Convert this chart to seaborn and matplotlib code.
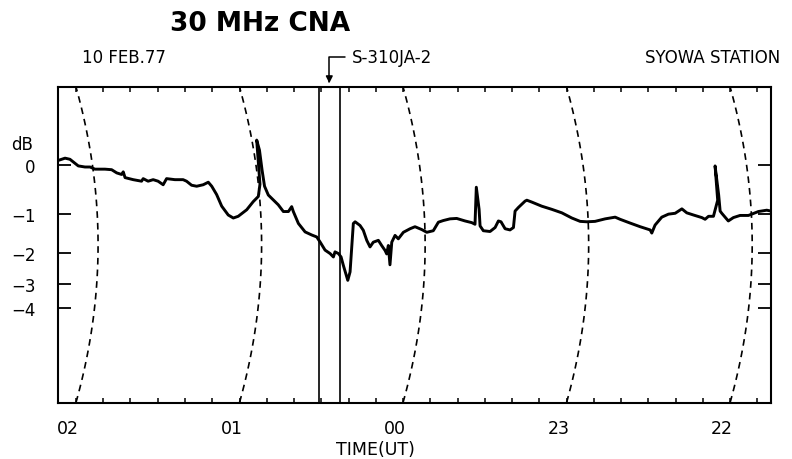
import numpy as np
import seaborn as sns
import matplotlib
matplotlib.use("Agg")
import matplotlib.pyplot as plt
from matplotlib import transforms
from matplotlib.ticker import MultipleLocator

# Time axis in UT hours; hours after midnight are written as 24 + h (02 UT -> 26)
ut_hours = [26.108, 26.067, 26.037, 25.986, 25.945, 25.914, 25.884, 25.823, 25.782, 25.751,
            25.721, 25.711, 25.700, 25.650, 25.599, 25.589, 25.559, 25.528, 25.498, 25.467,
            25.446, 25.395, 25.345, 25.324, 25.293, 25.262, 25.222, 25.191, 25.170, 25.140,
            25.109, 25.069, 25.038, 25.008, 24.956, 24.916, 24.885, 24.875, 24.895, 24.878,
            24.862, 24.847, 24.824, 24.783, 24.763, 24.732, 24.701, 24.681, 24.671, 24.640,
            24.599, 24.558, 24.528, 24.508, 24.477, 24.446, 24.426, 24.416, 24.395, 24.379,
            24.365, 24.338, 24.324, 24.304, 24.293, 24.263, 24.243, 24.222, 24.202, 24.182,
            24.151, 24.131, 24.110, 24.100, 24.090, 24.080, 24.069, 24.049, 24.029, 23.998,
            23.957, 23.927, 23.886, 23.855, 23.815, 23.784, 23.754, 23.713, 23.672, 23.621,
            23.580, 23.560, 23.552, 23.535, 23.529, 23.509, 23.468, 23.437, 23.417, 23.401,
            23.376, 23.346, 23.325, 23.315, 23.295, 23.254, 23.243, 23.213, 23.152, 23.091,
            23.029, 22.968, 22.917, 22.876, 22.826, 22.764, 22.703, 22.673, 22.612, 22.550,
            22.489, 22.479, 22.459, 22.418, 22.377, 22.336, 22.295, 22.265, 22.224, 22.173,
            22.153, 22.132, 22.102, 22.076, 22.092, 22.070, 22.061, 22.051, 22.011, 21.980,
            21.939, 21.888, 21.827, 21.776, 21.750]

# 30 MHz cosmic noise absorption in dB
cna_db = [0.09, 0.13, 0.11, -0.01, -0.03, -0.03, -0.07, -0.07, -0.08, -0.14,
          -0.17, -0.12, -0.23, -0.27, -0.30, -0.25, -0.30, -0.27, -0.30, -0.37,
          -0.25, -0.27, -0.27, -0.30, -0.38, -0.40, -0.37, -0.32, -0.40, -0.57,
          -0.82, -1.02, -1.09, -1.05, -0.90, -0.72, -0.61, -0.36, 0.44, 0.27,
          -0.09, -0.40, -0.58, -0.72, -0.79, -0.94, -0.94, -0.83, -0.94, -1.22,
          -1.43, -1.51, -1.56, -1.69, -1.92, -2.02, -2.12, -1.97, -2.02, -2.12,
          -2.38, -2.88, -2.59, -1.22, -1.18, -1.27, -1.39, -1.65, -1.83, -1.70,
          -1.65, -1.79, -1.93, -2.03, -1.79, -2.36, -1.70, -1.52, -1.61, -1.44,
          -1.35, -1.30, -1.37, -1.44, -1.40, -1.19, -1.15, -1.11, -1.10, -1.16,
          -1.20, -1.24, -0.42, -0.89, -1.28, -1.40, -1.42, -1.32, -1.16, -1.18,
          -1.35, -1.38, -1.32, -0.93, -0.85, -0.71, -0.69, -0.73, -0.82, -0.89,
          -0.97, -1.09, -1.17, -1.18, -1.17, -1.11, -1.07, -1.12, -1.21, -1.30,
          -1.38, -1.46, -1.26, -1.07, -1.00, -0.98, -0.88, -0.97, -1.02, -1.08,
          -1.12, -1.05, -1.05, -0.69, -0.01, -0.58, -0.93, -0.98, -1.16, -1.08,
          -1.03, -1.03, -0.94, -0.91, -0.93]

hour_ticks = [26, 25, 24, 23, 22]
hour_labels = ["02", "01", "00", "23", "22"]
db_ticks = [0, -1, -2, -3, -4]
db_labels = ["0", "\u22121", "\u22122", "\u22123", "\u22124"]

launch_lines = [24.517, 24.385]     # S-310JA-2 window
arc_hours = [26, 25, 24, 23, 22]    # recorder pen-arc hour marks
ARC_BULGE_H = 0.135                 # arc sag at mid height, in hours

sns.set_style("white")
plt.rcParams["font.family"] = ["DejaVu Sans"]
plt.rcParams["text.color"] = "black"
plt.rcParams["axes.labelcolor"] = "black"
plt.rcParams["xtick.color"] = "black"
plt.rcParams["ytick.color"] = "black"

fig = plt.figure(figsize=(7.92, 4.6), dpi=100)
ax = fig.add_axes([58 / 792, 56.5 / 460, 713 / 792, 315.5 / 460])

# chart recorder scale: linear in received power, labelled in dB
def to_power(d):
    return 10 ** (np.asarray(d, dtype=float) / 10)

def to_db(p):
    return 10 * np.log10(np.clip(np.asarray(p, dtype=float), 1e-6, None))

sns.lineplot(x=ut_hours, y=cna_db, sort=False, estimator=None,
             color="black", linewidth=2.1, ax=ax)

ax.set_yscale("function", functions=(to_power, to_db))
ax.set_ylim(-40, 1.24)
ax.set_xlim(26.11, 21.75)

# dashed hour arcs
trans = transforms.blended_transform_factory(ax.transData, ax.transAxes)
yf = np.linspace(0, 1, 80)
sag = ARC_BULGE_H * (1 - (2 * yf - 1) ** 2)
for h in arc_hours:
    ax.plot(h - sag, yf, transform=trans, color="black", lw=1.2, dashes=(4, 3))

# rocket launch window
for h in launch_lines:
    ax.axvline(h, color="black", lw=1.2)

ax.annotate("S-310JA-2", xy=(np.mean(launch_lines), 1.012),
            xycoords=("data", "axes fraction"),
            xytext=(352 / 792, 1 - 58 / 460), textcoords="figure fraction",
            ha="left", va="center", fontsize=12, color="black", annotation_clip=False,
            arrowprops=dict(arrowstyle="-|>", color="black", lw=1.1,
                            mutation_scale=10, shrinkA=3, shrinkB=0,
                            connectionstyle="angle,angleA=0,angleB=90,rad=0"))

# ticks
ax.set_xticks(hour_ticks, labels=hour_labels)
ax.xaxis.set_minor_locator(MultipleLocator(1 / 6))
ax.tick_params(axis="x", which="both", direction="in", top=True, bottom=True,
               length=3.8, width=1.1, labelsize=12.5, pad=12, color="black",
               labelcolor="black")
ax.set_yticks(db_ticks, labels=db_labels)
ax.tick_params(axis="y", direction="in", left=True, right=True,
               length=9.5, width=1.3, labelsize=12, pad=16, color="black",
               labelcolor="black")

shift = transforms.ScaledTranslation(-8 / 100, 0, fig.dpi_scale_trans)
for lbl in ax.get_xticklabels():
    lbl.set_transform(lbl.get_transform() + shift)

for sp in ax.spines.values():
    sp.set_color("black")
    sp.set_linewidth(1.5)

ax.set_xlabel("TIME(UT)", fontsize=12.5, va="center", color="black")
ax.xaxis.set_label_coords(0.445, -0.148)
ax.set_ylabel("dB", fontsize=12, rotation=0, va="center", ha="center", color="black")
ax.yaxis.set_label_coords(-0.05, 0.819)

fig.text(260 / 792, 1 - 24 / 460, "30 MHz CNA", ha="center", va="center",
         fontsize=19, fontweight="bold", color="black")
fig.text(82 / 792, 1 - 58 / 460, "10 FEB.77", ha="left", va="center",
         fontsize=12, color="black")
fig.text(780 / 792, 1 - 58 / 460, "SYOWA STATION", ha="right", va="center",
         fontsize=12, color="black")

fig.savefig("out.png", dpi=100, facecolor="white")
